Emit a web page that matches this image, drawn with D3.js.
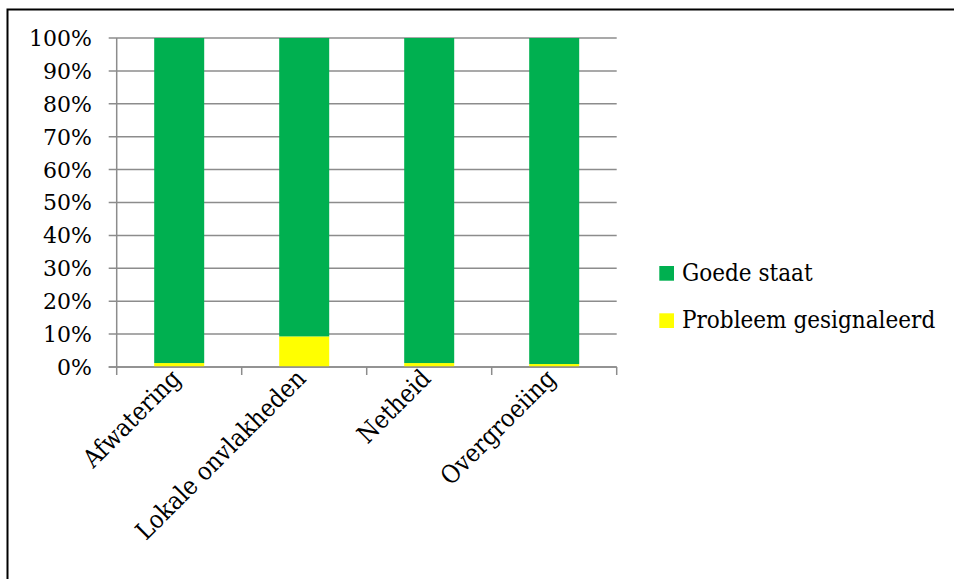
<!DOCTYPE html>
<html><head><meta charset="utf-8">
<script src="https://cdn.jsdelivr.net/npm/d3@7"></script>
<style>
body{margin:0;background:#fff;}
svg{display:block;}
text{font-family:"DejaVu Serif",serif;fill:#000;}
.cond{font-family:"DejaVu Serif Condensed","DejaVu Serif",serif;font-stretch:condensed;}
</style></head>
<body>
<svg id="c" width="954" height="579"></svg>
<script>
const categories = ["Afwatering","Lokale onvlakheden","Netheid","Overgroeiing"];
const probleem = [1.2, 9.3, 1.2, 0.9];
const goed = [98.8, 90.7, 98.8, 99.1];
const seriesNames = ["Goede staat","Probleem gesignaleerd"];
const seriesColors = ["#00B050","#FFFF00"];
const yTicks = [0,10,20,30,40,50,60,70,80,90,100];

const svg = d3.select("#c");
// outer border (top & left visible)
svg.append("rect").attr("x",7.5).attr("y",9.5).attr("width",954).attr("height",600)
  .attr("fill","none").attr("stroke","#000").attr("stroke-width",2);

const x0 = 116.7, x1 = 616.7, yTop = 38, yBot = 367;
const x = d3.scaleBand().domain(categories).range([x0,x1]).paddingInner(0.6).paddingOuter(0.3);
const y = d3.scaleLinear().domain([0,100]).range([yBot,yTop]);

// gridlines
svg.append("g").selectAll("line").data(yTicks).join("line")
  .attr("x1",x0-8).attr("x2",x1).attr("y1",d=>y(d)).attr("y2",d=>y(d))
  .attr("stroke","#8c8c8c").attr("stroke-width",1.5);

// y labels
svg.append("g").selectAll("text").data(yTicks).join("text")
  .attr("x",92).attr("y",d=>y(d)).attr("dy","0.36em").attr("text-anchor","end")
  .attr("font-size",22).text(d=>d+"%");

// stacked data
const data = categories.map((c,i)=>({cat:c, probleem:probleem[i], goed:goed[i]}));
const stack = d3.stack().keys(["probleem","goed"])(data);
const colorByKey = {probleem:seriesColors[1], goed:seriesColors[0]};
svg.append("g").selectAll("g").data(stack).join("g")
  .attr("fill",d=>colorByKey[d.key])
  .selectAll("rect").data(d=>d).join("rect")
  .attr("x",d=>x(d.data.cat)).attr("width",x.bandwidth())
  .attr("y",d=>y(d[1])).attr("height",d=>y(d[0])-y(d[1]));

// axes lines
svg.append("line").attr("x1",x0).attr("x2",x0).attr("y1",yTop).attr("y2",yBot)
  .attr("stroke","#8c8c8c").attr("stroke-width",1.5);
svg.append("line").attr("x1",x0-8).attr("x2",x1).attr("y1",yBot).attr("y2",yBot)
  .attr("stroke","#8c8c8c").attr("stroke-width",1.5);
// x ticks at band boundaries
const bounds = d3.range(categories.length+1).map(i=>x0+i*(x1-x0)/categories.length);
svg.append("g").selectAll("line").data(bounds).join("line")
  .attr("x1",d=>d).attr("x2",d=>d).attr("y1",yBot).attr("y2",yBot+8)
  .attr("stroke","#8c8c8c").attr("stroke-width",1.5);

// x labels
svg.append("g").selectAll("text").data(categories).join("text")
  .attr("class","cond")
  .attr("text-anchor","end").attr("font-size",25)
  .attr("transform",d=>`translate(${x(d)+x.bandwidth()/2+3},${yBot+13}) rotate(-45)`)
  .text(d=>d);

// legend
const lg = svg.append("g");
seriesNames.forEach((n,i)=>{
  const yy = 266 + i*47.3;
  lg.append("rect").attr("x",659.3).attr("y",yy).attr("width",14.7).attr("height",14.7).attr("fill",seriesColors[i]);
  lg.append("text").attr("class","cond").attr("x",682).attr("y",yy+15).attr("font-size",24).text(n);
});
</script>
</body></html>
